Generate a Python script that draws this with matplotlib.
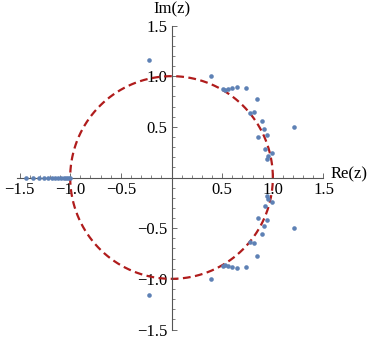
import numpy as np
import matplotlib
matplotlib.use("Agg")
import matplotlib.pyplot as plt

# Roots (upper half plane)
re_upper = [0.387, 0.505, 0.528, 0.555, 0.594, 0.644, 0.732, 0.847, 0.775, 0.814,
            0.897, 0.913, 0.940, 0.851, 0.926, 0.989, 0.956, 0.946, 1.212, -0.219]
im_upper = [0.997, 0.870, 0.864, 0.874, 0.881, 0.890, 0.881, 0.778, 0.634, 0.649,
            0.561, 0.476, 0.417, 0.397, 0.281, 0.245, 0.215, 0.183, 0.501, 1.160]
# Roots (lower half plane)
re_lower = [0.387, 0.505, 0.528, 0.555, 0.594, 0.644, 0.732, 0.847, 0.775, 0.814,
            0.897, 0.913, 0.940, 0.851, 0.926, 0.989, 0.956, 0.946, 1.212, -0.219]
im_lower = [-0.997, -0.870, -0.864, -0.874, -0.881, -0.890, -0.881, -0.778, -0.634, -0.649,
            -0.561, -0.476, -0.417, -0.397, -0.281, -0.245, -0.215, -0.183, -0.501, -1.160]
# Real roots
re_real = [-1.44, -1.37, -1.31, -1.26, -1.22, -1.18, -1.15, -1.12, -1.09, -1.06, -1.04, -1.02, -1.005]
im_real = [0.0] * len(re_real)

major_ticks = [-1.5, -1.0, -0.5, 0.5, 1.0, 1.5]
tick_labels = ["\u22121.5", "\u22121.0", "\u22120.5", "0.5", "1.0", "1.5"]

plt.rcParams['font.family'] = ['Liberation Serif', 'DejaVu Serif']

fig = plt.figure(figsize=(3.74, 3.41), dpi=100)
xmin, xmax, ymin, ymax = -1.53, 1.5, -1.5, 1.5
left = 16.5 / 374
width = 307 / 374
bottom = (341 - 329.5) / 341
height = 304 / 341
ax = fig.add_axes([left, bottom, width, height])
ax.set_xlim(xmin, xmax)
ax.set_ylim(ymin, ymax)

t = np.linspace(0, 2 * np.pi, 600)
ax.plot(np.cos(t), np.sin(t), color='#B01C1C', lw=1.6, dashes=(3.5, 2.0), zorder=2)

pt_color = '#5E81B5'
for xs, ys in [(re_upper, im_upper), (re_lower, im_lower), (re_real, im_real)]:
    ax.plot(xs, ys, 'o', color=pt_color, markersize=3.3, markeredgewidth=0, zorder=3)

for s in ['top', 'right']:
    ax.spines[s].set_visible(False)
ax.spines['left'].set_position(('data', 0))
ax.spines['bottom'].set_position(('data', 0))
for s in ['left', 'bottom']:
    ax.spines[s].set_color('#555555')
    ax.spines[s].set_linewidth(0.8)

ax.set_xticks(major_ticks)
ax.set_xticklabels(tick_labels)
ax.set_yticks(major_ticks)
ax.set_yticklabels(tick_labels)
minor = [v / 10 for v in range(-15, 16) if v % 5 != 0]
ax.set_xticks(minor, minor=True)
ax.set_yticks(minor, minor=True)
ax.tick_params(which='major', direction='in', length=3.6, width=0.6, color='#555555',
               labelsize=12, pad=3)
ax.tick_params(which='minor', direction='in', length=2.0, width=0.5, color='#555555')
ax.patch.set_visible(False)

ax.text(1.565, 0.03, "Re(z)", fontsize=12, ha='left', va='center', clip_on=False)
ax.text(0.0, 1.655, "Im(z)", fontsize=12, ha='center', va='center', clip_on=False)

fig.savefig("out.png", dpi=100)
